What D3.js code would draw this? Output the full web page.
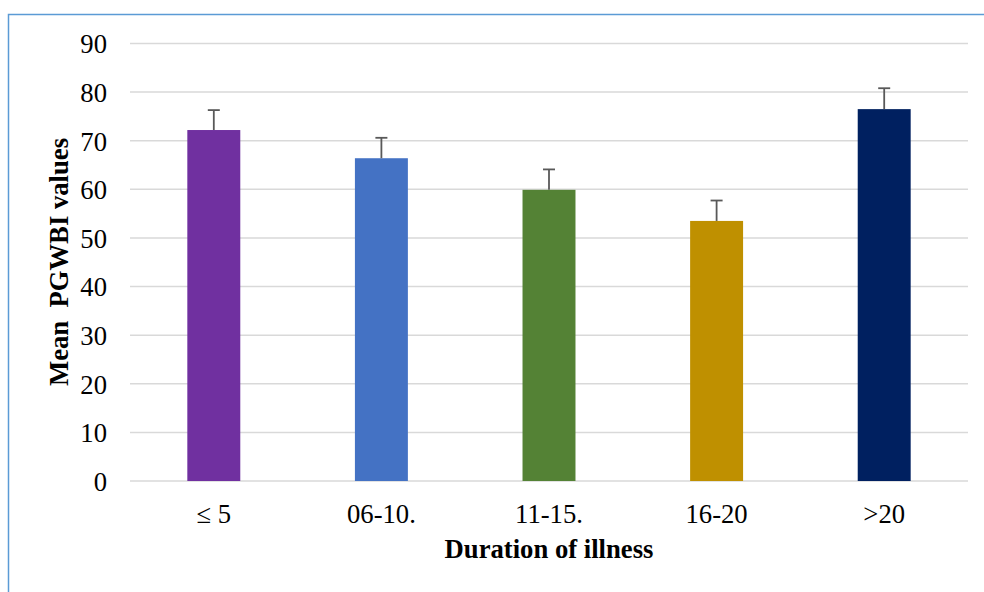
<!DOCTYPE html>
<html><head><meta charset="utf-8">
<script src="https://cdn.jsdelivr.net/npm/d3@7"></script>
<style>html,body{margin:0;padding:0;background:#fff;}</style>
</head><body>
<script>
const categories = ["≤ 5", "06-10.", "11-15.", "16-20", ">20"];
const values = [72.2, 66.4, 59.9, 53.5, 76.5];
const errors = [4.1, 4.2, 4.2, 4.2, 4.3];
const colors = ["#7030A0", "#4472C4", "#548235", "#BF9000", "#002060"];
const yTicks = [0, 10, 20, 30, 40, 50, 60, 70, 80, 90];

(function () {
const W = 984, H = 592;
const svg = d3.select("body").append("svg").attr("width", W).attr("height", H);
const font = "'Liberation Serif', 'Times New Roman', serif";
const fs = 26.67;

// frame
svg.append("path").attr("d", "M8.5,592 L8.5,14.5 L984,14.5")
  .attr("fill", "none").attr("stroke", "#5B9BD5").attr("stroke-width", 1.5);

const mLeft = 130, mRight = 968, mTop = 43.5, mBottom = 481;
const x = d3.scaleBand().domain(categories).range([mLeft, mRight]).paddingInner(0.684).paddingOuter(0.342);
const y = d3.scaleLinear().domain([0, 90]).range([mBottom, mTop]);

// gridlines
svg.append("g").selectAll("line").data(yTicks).join("line")
  .attr("x1", mLeft).attr("x2", mRight)
  .attr("y1", d => y(d)).attr("y2", d => y(d))
  .attr("stroke", "#d9d9d9").attr("stroke-width", 1.5);

// y axis labels
const yAxis = d3.axisLeft(y).tickValues(yTicks).tickSize(0).tickPadding(0);
const gy = svg.append("g").attr("transform", `translate(107,0)`).call(yAxis)
  .attr("font-family", font).attr("font-size", fs);
gy.select(".domain").remove();
gy.selectAll("text").style("font-family", font).style("font-size", fs + "px").attr("fill", "#000").attr("dy", "0.35em");

// bars
svg.append("g").selectAll("rect").data(values).join("rect")
  .attr("x", (d, i) => x(categories[i]))
  .attr("width", x.bandwidth())
  .attr("y", d => y(d))
  .attr("height", d => y(0) - y(d))
  .attr("fill", (d, i) => colors[i]);

// error bars
const eg = svg.append("g").attr("stroke", "#595959").attr("stroke-width", 1.8);
values.forEach((v, i) => {
  const cx = x(categories[i]) + x.bandwidth() / 2;
  eg.append("line").attr("x1", cx).attr("x2", cx).attr("y1", y(v)).attr("y2", y(v + errors[i]));
  eg.append("line").attr("x1", cx - 6).attr("x2", cx + 6).attr("y1", y(v + errors[i])).attr("y2", y(v + errors[i]));
});

// x axis labels
const xAxis = d3.axisBottom(x).tickSize(0).tickPadding(0);
const gx = svg.append("g").attr("transform", `translate(0,${mBottom})`).call(xAxis)
  .attr("font-family", font).attr("font-size", fs);
gx.select(".domain").remove();
gx.selectAll("text").style("font-family", font).style("font-size", fs + "px").attr("fill", "#000")
  .attr("y", 41.7).attr("dy", 0);

// axis titles
svg.append("text").attr("x", (mLeft + mRight) / 2).attr("y", 558)
  .attr("text-anchor", "middle").style("font-family", font).style("font-size", fs + "px")
  .attr("font-weight", "bold").text("Duration of illness");
svg.append("text").attr("transform", "translate(68,262) rotate(-90)")
  .attr("text-anchor", "middle").style("font-family", font).style("font-size", fs + "px")
  .attr("font-weight", "bold").style("white-space", "pre").text("Mean  PGWBI values");
})();
</script>
</body></html>
